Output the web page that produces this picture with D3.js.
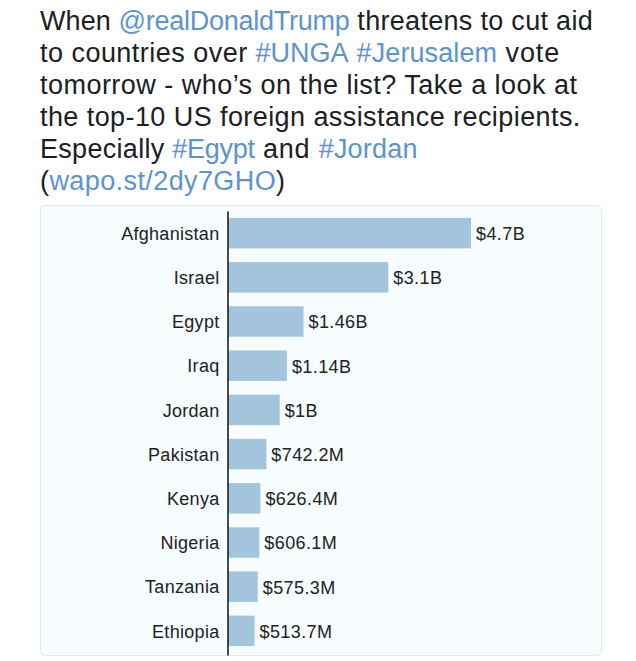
<!DOCTYPE html>
<html>
<head>
<meta charset="utf-8">
<script src="https://cdn.jsdelivr.net/npm/d3@7/dist/d3.min.js"></script>
<style>
html, body { margin: 0; padding: 0; background: #fff; }
svg { display: block; }
</style>
</head>
<body>
<script>
var w = 636;
var h = 661;

var countries = ["Afghanistan", "Israel", "Egypt", "Iraq", "Jordan", "Pakistan", "Kenya", "Nigeria", "Tanzania", "Ethiopia"];
var amounts = [4700, 3100, 1460, 1140, 1000, 742.2, 626.4, 606.1, 575.3, 513.7];
var amountLabels = ["$4.7B", "$3.1B", "$1.46B", "$1.14B", "$1B", "$742.2M", "$626.4M", "$606.1M", "$575.3M", "$513.7M"];

// tweet text, one list per line
var tweetLines = [
    ["When ", "@realDonaldTrump", " threatens to cut aid"],
    ["to countries over ", "#UNGA", " ", "#Jerusalem", " vote"],
    ["tomorrow - who\u2019s on the list? Take a look at"],
    ["the top-10 US foreign assistance recipients."],
    ["Especially ", "#Egypt", " and ", "#Jordan"],
    ["(", "wapo.st/2dy7GHO", ")"]
];
var linkWords = ["@realDonaldTrump", "#UNGA", "#Jerusalem", "#Egypt", "#Jordan", "wapo.st/2dy7GHO"];

// the screenshot font sets each piece a bit tighter or looser than Liberation
var textSpacing = {
    "When ": 0.1,
    "@realDonaldTrump": -0.25,
    " threatens to cut aid": 0.3,
    "#UNGA": 0,
    "#Jerusalem": 0.1,
    " vote": 0.9,
    "Especially ": 0.3,
    "#Egypt": -0.3,
    " and ": 0.8,
    "#Jordan": 0.2,
    "the top-10 US foreign assistance recipients.": 0.42,
    "wapo.st/2dy7GHO": 0.4
};

function spacing(d){
    return d in textSpacing ? textSpacing[d] : 0.47;
}

var svg = d3.select("body")
    .append("svg")
    .attr("width", w)
    .attr("height", h);

svg.append("text")
    .attr("font-family", "'Liberation Sans', sans-serif")
    .attr("font-size", 27)
    .attr("fill", "#1c2024")
    .selectAll("tspan.line")
    .data(tweetLines)
    .enter()
    .append("tspan")
    .attr("class", "line")
    .attr("x", 40)
    .attr("y", function(d, i){
        return 30 + i * 32;
    })
    .selectAll("tspan")
    .data(function(d){
        return d;
    })
    .enter()
    .append("tspan")
    .style("white-space", "pre")
    .attr("letter-spacing", spacing)
    .attr("fill", function(d){
        return linkWords.indexOf(d) >= 0 ? "#5b94d0" : "#1c2024";
    })
    .text(function(d){
        return d;
    });

// chart card
svg.append("rect")
    .attr("x", 40.5)
    .attr("y", 205.5)
    .attr("width", 561)
    .attr("height", 450)
    .attr("rx", 5)
    .attr("fill", "#f7fcff")
    .attr("stroke", "#e3e8ec");

var xScale = d3.scaleLinear()
    .domain([0, 4700])
    .range([228, 471]);

var yScale = d3.scaleBand()
    .domain(countries)
    .range([210, 654])
    .paddingInner(0.31)
    .paddingOuter(0.178);

svg.selectAll("rect.bar")
    .data(amounts)
    .enter()
    .append("rect")
    .attr("class", "bar")
    .attr("x", xScale(0))
    .attr("y", function(d, i){
        return yScale(countries[i]);
    })
    .attr("width", function(d){
        return xScale(d) - xScale(0);
    })
    .attr("height", yScale.bandwidth())
    .attr("fill", "#a2c5dd");

var yAxis = svg.append("g")
    .attr("transform", "translate(" + (xScale(0) - 0.5) + ",1)")
    .call(d3.axisLeft(yScale).tickSize(0).tickPadding(8));

yAxis.select(".domain")
    .attr("stroke", "#1b1f23")
    .attr("stroke-width", 1.6);

yAxis.selectAll("text")
    .attr("font-family", "'Liberation Sans', sans-serif")
    .attr("font-size", 18)
    .attr("letter-spacing", 0.3)
    .attr("fill", "#222");

svg.selectAll("text.amount")
    .data(amounts)
    .enter()
    .append("text")
    .attr("class", "amount")
    .attr("x", function(d){
        return xScale(d) + 5;
    })
    .attr("y", function(d, i){
        return yScale(countries[i]) + yScale.bandwidth() / 2 + 1;
    })
    .attr("dy", "0.33em")
    .attr("font-family", "'Liberation Sans', sans-serif")
    .attr("font-size", 18)
    .attr("letter-spacing", 0.4)
    .attr("fill", "#222")
    .text(function(d, i){
        return amountLabels[i];
    });
</script>
</body>
</html>
